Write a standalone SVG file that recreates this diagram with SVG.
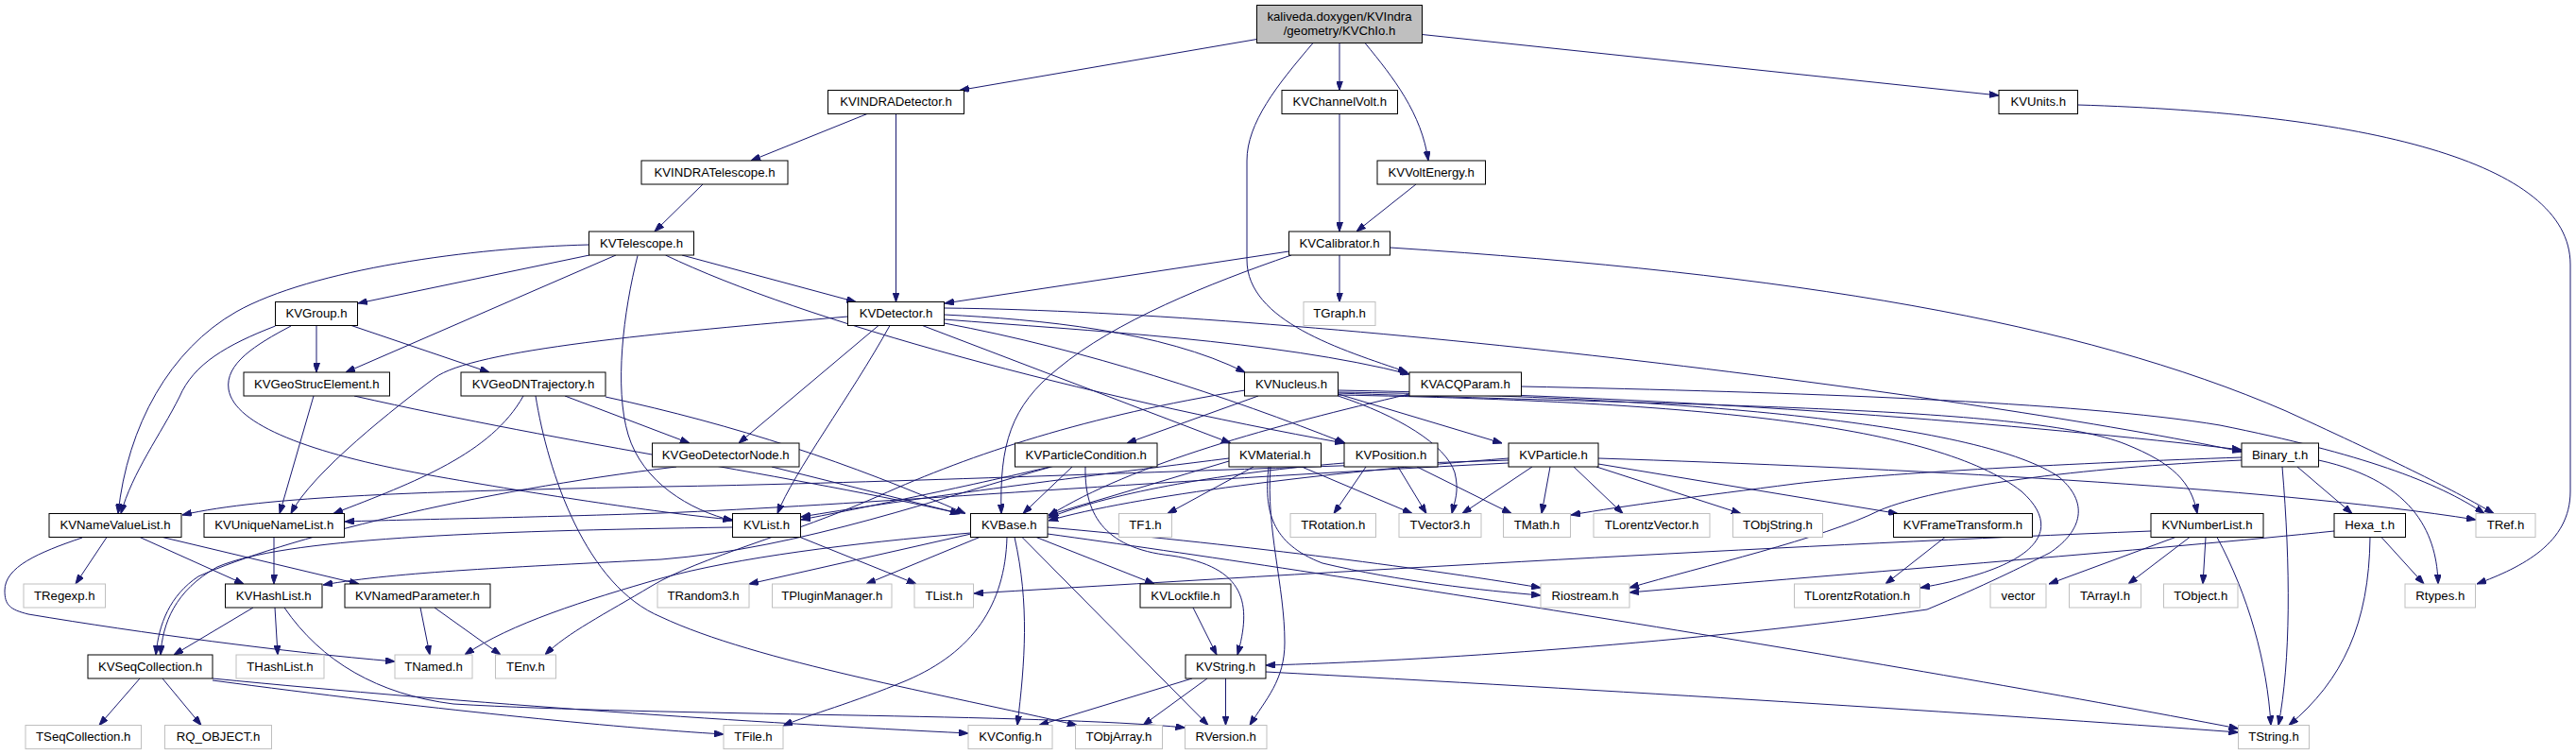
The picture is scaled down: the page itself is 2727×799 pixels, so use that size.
<svg xmlns="http://www.w3.org/2000/svg" width="2727" height="799" viewBox="0 0 2727 799">
<defs>
<marker id="ah" markerWidth="10" markerHeight="7" refX="10" refY="3.5" orient="auto" markerUnits="userSpaceOnUse"><path d="M0,0 L10,3.5 L0,7 z" fill="#191970" stroke="#191970" stroke-width="1"/></marker>
</defs>
<style>
rect{fill:#fff;stroke:#000;stroke-width:1}
.g rect{stroke:#bfbfbf}
.root rect{fill:#bfbfbf}
text{font-family:"Liberation Sans",Arial,Helvetica,sans-serif;font-size:13.2px;fill:#000;text-anchor:middle}
#edges path{fill:none;stroke:#191970;stroke-width:1;marker-end:url(#ah)}
</style>
<rect x="0" y="0" width="2727" height="799" style="fill:#fff;stroke:none"/>
<g id="edges">
<path d="M1330.5,41.5 L1016,95.5"/>
<path d="M1418,45.5 L1418,95.5"/>
<path d="M1445,45.5 C1475,82 1505,120 1512,170"/>
<path d="M1505.5,36.5 L2116,101"/>
<path d="M1390,45.5 C1352,90 1320,130 1320,170 L1320,275 C1320,340 1420,370 1490,394"/>
<path d="M918,120.5 L795,170"/>
<path d="M948.5,120.5 L948.5,319.5"/>
<path d="M744,195 L693,245"/>
<path d="M722,270 L906,319.5"/>
<path d="M624,270 L379,321"/>
<path d="M652,270 L366,394"/>
<path d="M623.5,259 C500,262 330,285 250,330 C180,370 135,450 125,543.5"/>
<path d="M675,270.5 C660,330 650,410 665,460 C680,510 730,540 775.5,551"/>
<path d="M704.5,270 C850,340 1150,420 1423,469"/>
<path d="M335,344.5 L335,394"/>
<path d="M372,344.5 L518,394"/>
<path d="M291.5,345 C240,365 205,385 190,420 C170,460 140,500 128,543.5"/>
<path d="M308,345 C270,365 238,385 242,412 C248,450 330,480 450,502 C580,525 700,543 775.5,550"/>
<path d="M332,419 L296,543.5"/>
<path d="M375,419 C600,470 850,505 1016,543.5"/>
<path d="M554,419 C520,480 440,510 353,543.5"/>
<path d="M598,419 L730,469"/>
<path d="M641,420 C780,450 900,490 1022,543.5"/>
<path d="M567,419 C580,500 620,620 700,653 C800,700 1000,735 1140,767.5"/>
<path d="M897.5,335 C700,352 500,370 460,400 C420,430 330,500 308,543.5"/>
<path d="M930,344.5 L782,469"/>
<path d="M942,344.5 C900,420 840,500 823,543.5"/>
<path d="M976.5,344.5 L1303,469"/>
<path d="M999.5,333 C1100,338 1230,350 1318,394"/>
<path d="M999.5,338 C1150,350 1350,360 1492,396"/>
<path d="M999.5,342 C1150,370 1300,420 1424,469"/>
<path d="M999.5,326 C1400,330 2100,420 2373,478"/>
<path d="M1364.5,266 L1000,321"/>
<path d="M1367,270 C1280,300 1180,340 1120,390 C1070,430 1058,470 1060,543.5"/>
<path d="M1418,270 L1418,319.5"/>
<path d="M1471.5,262 C1900,290 2200,340 2420,435 C2540,490 2600,520 2640,543.5"/>
<path d="M1418,120.5 L1418,245"/>
<path d="M1499,195 L1436,245"/>
<path d="M2199.5,111 C2500,120 2721,170 2721,280 L2721,520 C2721,575 2670,600 2622,618"/>
<path d="M1492,417 C1350,450 1200,490 1110,546"/>
<path d="M1610.5,409 C1900,415 2200,425 2350,450 C2500,480 2580,510 2630,543.5"/>
<path d="M1332,419 L1193,469"/>
<path d="M1416.5,417 L1590,469"/>
<path d="M1416.5,419 C1480,440 1530,470 1540,500 C1545,520 1540,530 1537,543.5"/>
<path d="M1416.5,416 C1800,430 2150,430 2250,470 C2300,490 2320,510 2326,543.5"/>
<path d="M1416.5,413 C1800,420 2150,450 2373,476"/>
<path d="M1416.5,418 C1800,425 2050,450 2140,520 C2185,560 2160,600 2033,622"/>
<path d="M1416.5,415 C1800,420 2100,450 2180,505 C2215,535 2200,565 2170,585 C2140,600 2100,620 2040,645 C1800,680 1500,700 1340,704"/>
<path d="M1318,413 C1150,440 1030,480 930,525 C840,565 740,590 690,620 C640,650 600,670 577,693"/>
<path d="M1027.5,564 C900,575 780,590 700,612 C620,635 540,660 492,693"/>
<path d="M1116.5,493 C1000,525 850,580 700,592 C550,600 420,605 342,619"/>
<path d="M1135,494 L1083,543.5"/>
<path d="M1149,494 C1148,540 1165,580 1240,588 C1320,600 1325,640 1310,693"/>
<path d="M1112,494 C1000,520 900,540 848,550"/>
<path d="M1301,488 L1110,545"/>
<path d="M1327,494 L1236,543.5"/>
<path d="M1378,494 L1495,543.5"/>
<path d="M1345,494 C1340,560 1360,620 1360,680 C1360,720 1340,740 1323,767.5"/>
<path d="M1343,494 C1338,540 1345,575 1400,596 C1480,615 1570,625 1631,630"/>
<path d="M1301,485 C1100,510 950,530 848,547"/>
<path d="M1423,490 C1300,500 1180,520 1110,548"/>
<path d="M1446,494 L1412,543.5"/>
<path d="M1480,494 L1510,543.5"/>
<path d="M1500,494 L1600,543.5"/>
<path d="M1597,485 C1400,500 1200,525 1110,551"/>
<path d="M1597,487 C1200,500 900,512 700,515 C450,520 280,525 193,545"/>
<path d="M1597,490 C1200,510 900,535 700,543 C550,548 420,550 365,552"/>
<path d="M1622,494 L1548,543.5"/>
<path d="M1641,494 L1632,543.5"/>
<path d="M1666,494 L1718,543.5"/>
<path d="M1690,494 L1843,543.5"/>
<path d="M1692,491 L2009,543.5"/>
<path d="M1692,485 C2000,495 2400,515 2621,550"/>
<path d="M2059,568.5 L1996,618"/>
<path d="M2432,494 L2490,543.5"/>
<path d="M2416,494 C2425,600 2425,700 2412,767.5"/>
<path d="M2454.5,487 C2560,510 2580,570 2581,618"/>
<path d="M2373,484 C2200,490 2000,500 1900,512 C1800,525 1720,535 1663,545"/>
<path d="M2373,487 C2200,495 2050,515 1990,540 C1930,570 1800,600 1725,622"/>
<path d="M2509,568.5 C2508,660 2480,720 2423,767.5"/>
<path d="M2521,568.5 L2566,618"/>
<path d="M2471,562 C2300,580 1900,612 1725,627"/>
<path d="M2303,568.5 L2169,618"/>
<path d="M2318,568.5 L2253,618"/>
<path d="M2335,568.5 L2332,618"/>
<path d="M2347,568.5 C2380,630 2400,700 2404,767.5"/>
<path d="M2277,562 C1900,577 1500,600 1031,628"/>
<path d="M1340,711 C1700,730 2100,755 2369.5,775"/>
<path d="M1297.5,718 L1297.5,767.5"/>
<path d="M1278,718 L1210,767.5"/>
<path d="M1262,718 L1100,767.5"/>
<path d="M1263,643 L1288,693"/>
<path d="M1028,565 L793,618"/>
<path d="M1037,568.5 L917,618"/>
<path d="M1066,568.5 C1064,640 1030,690 960,720 C900,745 860,755 829,768"/>
<path d="M1074,568.5 C1090,640 1085,700 1077,767.5"/>
<path d="M1082,568.5 L1279,767.5"/>
<path d="M1097,568.5 L1222,618"/>
<path d="M1109,558 C1300,575 1500,600 1631,622"/>
<path d="M1109,565 C1400,605 2000,700 2369.5,771"/>
<path d="M847,568.5 L970,618"/>
<path d="M775.5,558 C500,562 300,570 230,600 C185,625 172,660 170,693"/>
<path d="M716,494 C500,520 300,570 210,610 C180,630 168,660 165,693"/>
<path d="M817,494 L1016,543.5"/>
<path d="M290,568.5 L290,618"/>
<path d="M113,568.5 L80,618"/>
<path d="M148,568.5 L258,618"/>
<path d="M172,568.5 L380,618"/>
<path d="M87,569 C40,585 5,600 5,625 C5,640 10,645 30,650 C150,670 300,690 418,700"/>
<path d="M268,643 L184,693"/>
<path d="M291,643 L294,693"/>
<path d="M301,643 C340,700 400,735 480,745 C700,758 1100,755 1254.5,770"/>
<path d="M445,643 L455,693"/>
<path d="M460,643 L530,693"/>
<path d="M148,718 L105,767.5"/>
<path d="M172,718 L213,767.5"/>
<path d="M225,718 C500,745 800,765 1025,776"/>
<path d="M225,720 C450,750 650,770 766,777"/>
</g>
<g id="n_KVChIo" class="root"><rect x="1330.5" y="5.5" width="175" height="40"/><text x="1418" y="22">kaliveda.doxygen/KVIndra</text><text x="1418" y="37">/geometry/KVChIo.h</text></g>
<g id="n_KVINDRADetector"><rect x="876.5" y="95.5" width="144" height="25"/><text x="948.5" y="112">KVINDRADetector.h</text></g>
<g id="n_KVChannelVolt"><rect x="1357" y="95.5" width="122.5" height="25"/><text x="1418.25" y="112">KVChannelVolt.h</text></g>
<g id="n_KVUnits"><rect x="2116" y="95.5" width="83.5" height="25"/><text x="2157.75" y="112">KVUnits.h</text></g>
<g id="n_KVINDRATelescope"><rect x="679" y="170" width="155" height="25"/><text x="756.5" y="186.5">KVINDRATelescope.h</text></g>
<g id="n_KVVoltEnergy"><rect x="1458" y="170" width="114.5" height="25"/><text x="1515.25" y="186.5">KVVoltEnergy.h</text></g>
<g id="n_KVTelescope"><rect x="623.5" y="245" width="111" height="25"/><text x="679" y="261.5">KVTelescope.h</text></g>
<g id="n_KVCalibrator"><rect x="1364.5" y="245" width="107" height="25"/><text x="1418" y="261.5">KVCalibrator.h</text></g>
<g id="n_KVGroup"><rect x="291.5" y="319.5" width="87" height="25"/><text x="335" y="336">KVGroup.h</text></g>
<g id="n_KVDetector"><rect x="897.5" y="319.5" width="102" height="25"/><text x="948.5" y="336">KVDetector.h</text></g>
<g id="n_TGraph" class="g"><rect x="1380" y="319.5" width="76" height="25"/><text x="1418" y="336">TGraph.h</text></g>
<g id="n_KVGeoStrucElement"><rect x="258" y="394" width="154.5" height="25"/><text x="335.25" y="410.5">KVGeoStrucElement.h</text></g>
<g id="n_KVGeoDNTrajectory"><rect x="488" y="394" width="153" height="25"/><text x="564.5" y="410.5">KVGeoDNTrajectory.h</text></g>
<g id="n_KVNucleus"><rect x="1317.5" y="394" width="99" height="25"/><text x="1367" y="410.5">KVNucleus.h</text></g>
<g id="n_KVACQParam"><rect x="1492" y="394" width="118.5" height="25"/><text x="1551.25" y="410.5">KVACQParam.h</text></g>
<g id="n_KVGeoDetectorNode"><rect x="690.5" y="469" width="155.5" height="25"/><text x="768.25" y="485.5">KVGeoDetectorNode.h</text></g>
<g id="n_KVParticleCondition"><rect x="1074.5" y="469" width="150.5" height="25"/><text x="1149.75" y="485.5">KVParticleCondition.h</text></g>
<g id="n_KVMaterial"><rect x="1301" y="469" width="97.5" height="25"/><text x="1349.75" y="485.5">KVMaterial.h</text></g>
<g id="n_KVPosition"><rect x="1423" y="469" width="99" height="25"/><text x="1472.5" y="485.5">KVPosition.h</text></g>
<g id="n_KVParticle"><rect x="1597" y="469" width="95" height="25"/><text x="1644.5" y="485.5">KVParticle.h</text></g>
<g id="n_Binary_t"><rect x="2373" y="469" width="81.5" height="25"/><text x="2413.75" y="485.5">Binary_t.h</text></g>
<g id="n_KVNameValueList"><rect x="52" y="543.5" width="140" height="25"/><text x="122" y="560">KVNameValueList.h</text></g>
<g id="n_KVUniqueNameList"><rect x="216" y="543.5" width="148.5" height="25"/><text x="290.25" y="560">KVUniqueNameList.h</text></g>
<g id="n_KVList"><rect x="775.5" y="543.5" width="72" height="25"/><text x="811.5" y="560">KVList.h</text></g>
<g id="n_KVBase"><rect x="1027.5" y="543.5" width="81.5" height="25"/><text x="1068.25" y="560">KVBase.h</text></g>
<g id="n_TF1" class="g"><rect x="1184.5" y="543.5" width="56" height="25"/><text x="1212.5" y="560">TF1.h</text></g>
<g id="n_TRotation" class="g"><rect x="1366" y="543.5" width="90.5" height="25"/><text x="1411.25" y="560">TRotation.h</text></g>
<g id="n_TVector3" class="g"><rect x="1481" y="543.5" width="87" height="25"/><text x="1524.5" y="560">TVector3.h</text></g>
<g id="n_TMath" class="g"><rect x="1591.5" y="543.5" width="71" height="25"/><text x="1627" y="560">TMath.h</text></g>
<g id="n_TLorentzVector" class="g"><rect x="1687" y="543.5" width="123" height="25"/><text x="1748.5" y="560">TLorentzVector.h</text></g>
<g id="n_TObjString" class="g"><rect x="1834.5" y="543.5" width="95" height="25"/><text x="1882" y="560">TObjString.h</text></g>
<g id="n_KVFrameTransform"><rect x="2004.5" y="543.5" width="147" height="25"/><text x="2078" y="560">KVFrameTransform.h</text></g>
<g id="n_KVNumberList"><rect x="2277" y="543.5" width="119" height="25"/><text x="2336.5" y="560">KVNumberList.h</text></g>
<g id="n_Hexa_t"><rect x="2471" y="543.5" width="75.5" height="25"/><text x="2508.75" y="560">Hexa_t.h</text></g>
<g id="n_TRef" class="g"><rect x="2621" y="543.5" width="63" height="25"/><text x="2652.5" y="560">TRef.h</text></g>
<g id="n_TRegexp" class="g"><rect x="25" y="618" width="86.5" height="25"/><text x="68.25" y="634.5">TRegexp.h</text></g>
<g id="n_KVHashList"><rect x="238.5" y="618" width="102.5" height="25"/><text x="289.75" y="634.5">KVHashList.h</text></g>
<g id="n_KVNamedParameter"><rect x="365" y="618" width="154" height="25"/><text x="442" y="634.5">KVNamedParameter.h</text></g>
<g id="n_TRandom3" class="g"><rect x="696" y="618" width="97" height="25"/><text x="744.5" y="634.5">TRandom3.h</text></g>
<g id="n_TPluginManager" class="g"><rect x="817.5" y="618" width="126.5" height="25"/><text x="880.75" y="634.5">TPluginManager.h</text></g>
<g id="n_TList" class="g"><rect x="968" y="618" width="62.5" height="25"/><text x="999.25" y="634.5">TList.h</text></g>
<g id="n_KVLockfile"><rect x="1207" y="618" width="96" height="25"/><text x="1255" y="634.5">KVLockfile.h</text></g>
<g id="n_Riostream" class="g"><rect x="1631" y="618" width="94" height="25"/><text x="1678" y="634.5">Riostream.h</text></g>
<g id="n_TLorentzRotation" class="g"><rect x="1899.5" y="618" width="133" height="25"/><text x="1966" y="634.5">TLorentzRotation.h</text></g>
<g id="n_vector" class="g"><rect x="2107" y="618" width="59" height="25"/><text x="2136.5" y="634.5">vector</text></g>
<g id="n_TArrayI" class="g"><rect x="2190.5" y="618" width="76" height="25"/><text x="2228.5" y="634.5">TArrayI.h</text></g>
<g id="n_TObject" class="g"><rect x="2290.5" y="618" width="78.5" height="25"/><text x="2329.75" y="634.5">TObject.h</text></g>
<g id="n_Rtypes" class="g"><rect x="2546" y="618" width="74.5" height="25"/><text x="2583.25" y="634.5">Rtypes.h</text></g>
<g id="n_KVSeqCollection"><rect x="93" y="693" width="132" height="25"/><text x="159" y="709.5">KVSeqCollection.h</text></g>
<g id="n_THashList" class="g"><rect x="250" y="693" width="93" height="25"/><text x="296.5" y="709.5">THashList.h</text></g>
<g id="n_TNamed" class="g"><rect x="418" y="693" width="82" height="25"/><text x="459" y="709.5">TNamed.h</text></g>
<g id="n_TEnv" class="g"><rect x="524.5" y="693" width="64" height="25"/><text x="556.5" y="709.5">TEnv.h</text></g>
<g id="n_KVString"><rect x="1255" y="693" width="85" height="25"/><text x="1297.5" y="709.5">KVString.h</text></g>
<g id="n_TSeqCollection" class="g"><rect x="27" y="767.5" width="122.5" height="25"/><text x="88.25" y="784">TSeqCollection.h</text></g>
<g id="n_RQ_OBJECT" class="g"><rect x="174.5" y="767.5" width="113" height="25"/><text x="231" y="784">RQ_OBJECT.h</text></g>
<g id="n_TFile" class="g"><rect x="766" y="767.5" width="63" height="25"/><text x="797.5" y="784">TFile.h</text></g>
<g id="n_KVConfig" class="g"><rect x="1025" y="767.5" width="89" height="25"/><text x="1069.5" y="784">KVConfig.h</text></g>
<g id="n_TObjArray" class="g"><rect x="1138.5" y="767.5" width="92" height="25"/><text x="1184.5" y="784">TObjArray.h</text></g>
<g id="n_RVersion" class="g"><rect x="1254.5" y="767.5" width="86.5" height="25"/><text x="1297.75" y="784">RVersion.h</text></g>
<g id="n_TString" class="g"><rect x="2369.5" y="767.5" width="75" height="25"/><text x="2407" y="784">TString.h</text></g>
</svg>
